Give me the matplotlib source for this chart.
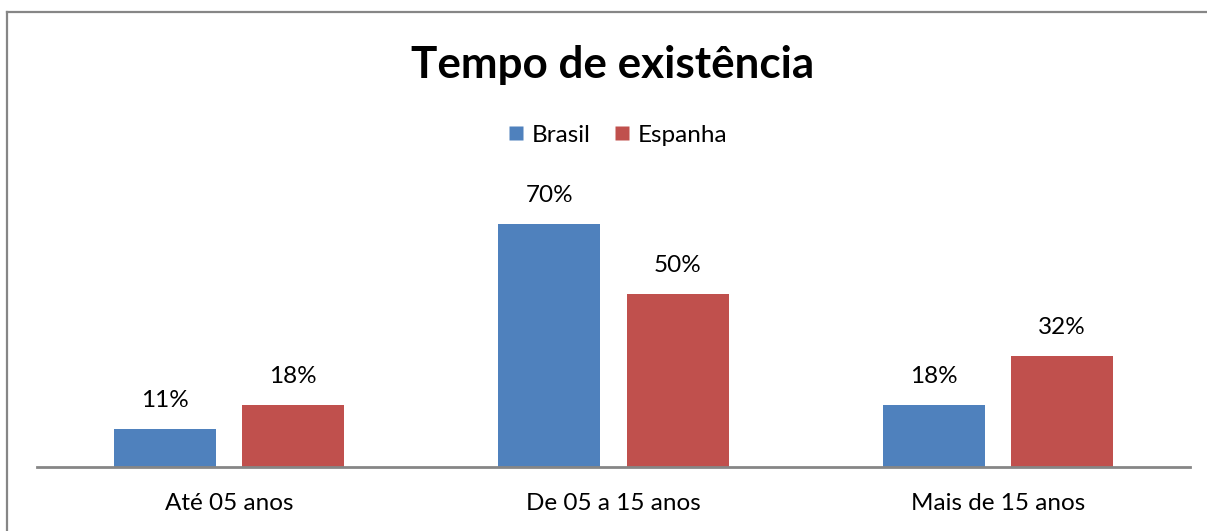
import matplotlib
matplotlib.use("Agg")
import matplotlib.pyplot as plt
from matplotlib.lines import Line2D

categories = ["Até 05 anos", "De 05 a 15 anos", "Mais de 15 anos"]
series_names = ["Brasil", "Espanha"]
brasil = [11, 70, 18]
espanha = [18, 50, 32]
title = "Tempo de existência"

W, H = 1207, 531
DPI = 100
fig = plt.figure(figsize=(W / DPI, H / DPI), dpi=DPI)
plt.rcParams['font.family'] = ['Lato', 'DejaVu Sans']

# axes in pixel coordinates
ax_left, ax_right = 37, 1190
ax_bottom_px = 467  # from top
ax_h_px = 300
ax = fig.add_axes([ax_left / W, (H - ax_bottom_px) / H, (ax_right - ax_left) / W, ax_h_px / H])
ax.set_ylim(0, ax_h_px / 3.47)
ax.set_xlim(-0.5, 2.5)

bw = 0.2656
off = 0.1667
colors = ["#4F81BD", "#C0504D"]
x = range(len(categories))
for vals, sign, col in [(brasil, -1, colors[0]), (espanha, 1, colors[1])]:
    xs = [i + sign * off for i in x]
    ax.bar(xs, vals, width=bw, color=col, edgecolor="none")
    for xi, v in zip(xs, vals):
        ax.annotate(f"{v}%", (xi, v), xytext=(0, 20.5), textcoords="offset points",
                    ha="center", va="center", fontsize=17.5, color="#000000")

for s in ["top", "right", "left"]:
    ax.spines[s].set_visible(False)
ax.spines["bottom"].set_color("#868686")
ax.spines["bottom"].set_linewidth(2)
ax.set_yticks([])
ax.set_xticks(list(x))
ax.set_xticklabels(categories, fontsize=17.5)
ax.tick_params(axis="x", length=0, pad=19)

# title
fig.text(613 / W, 1 - 65 / H, title, ha="center", va="center", fontsize=31.7, fontweight="bold")

# legend
handles = [Line2D([], [], marker="s", linestyle="none", markersize=9.4,
                  markerfacecolor=c, markeredgecolor="none") for c in colors]
leg = fig.legend(handles, series_names, loc="center", bbox_to_anchor=(618 / W, 1 - 135 / H),
                 ncol=2, frameon=False, fontsize=17.5, handlelength=0.6,
                 handletextpad=0.35, columnspacing=1.0)

# outer border (top and left visible)
fig.add_artist(Line2D([7 / W, 1], [1 - 12 / H, 1 - 12 / H], color="#868686", lw=1.6, transform=fig.transFigure))
fig.add_artist(Line2D([7 / W, 7 / W], [0, 1 - 12 / H], color="#868686", lw=1.6, transform=fig.transFigure))

fig.savefig("out.png", dpi=DPI)
